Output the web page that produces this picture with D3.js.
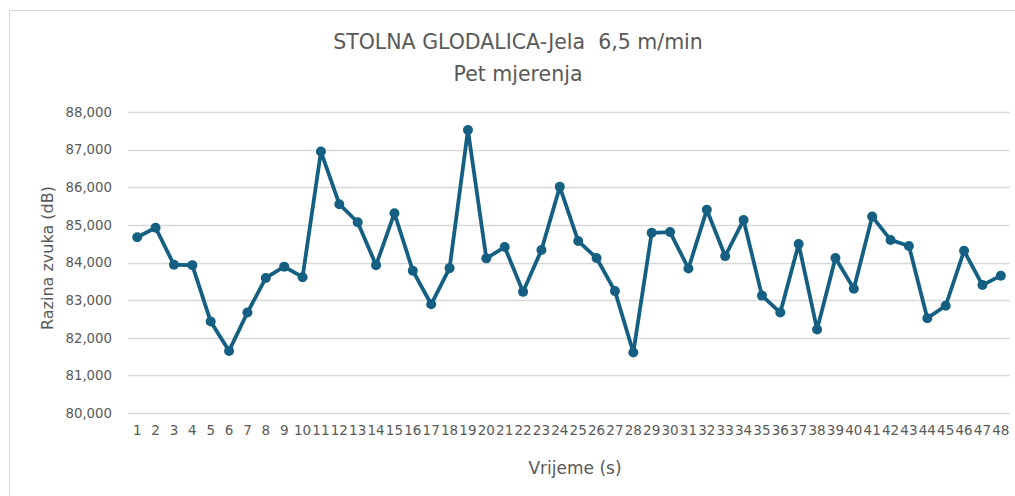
<!DOCTYPE html>
<html>
<head>
<meta charset="utf-8">
<script src="https://cdn.jsdelivr.net/npm/d3@7"></script>
<style>
  html, body { margin: 0; padding: 0; background: #fff; }
  svg { display: block; }
  text { font-family: "DejaVu Sans", sans-serif; fill: #595959; }
</style>
</head>
<body>
<svg id="chart" width="1015" height="496"></svg>
<script>
const titleLines = ["STOLNA GLODALICA-Jela  6,5 m/min", "Pet mjerenja"];
const xAxisTitle = "Vrijeme (s)";
const yAxisTitle = "Razina zvuka (dB)";
const categories = d3.range(1, 49).map(String);
const values = [
  84670, 84925, 83940, 83930, 82430, 81650, 82670, 83590, 83890, 83610,
  86950, 85550, 85070, 83930, 85310, 83780, 82890, 83850, 87520, 84110,
  84410, 83220, 84330, 86010, 84570, 84120, 83240, 81610, 84790, 84810,
  83840, 85400, 84170, 85130, 83120, 82670, 84490, 82220, 84120, 83300,
  85220, 84600, 84440, 82520, 82850, 84310, 83400, 83650
];
const yTicks = [80000, 81000, 82000, 83000, 84000, 85000, 86000, 87000, 88000];

const svg = d3.select("#chart");
const plot = { left: 128, right: 1010, top: 112, bottom: 413 };

// chart area border
svg.append("rect")
  .attr("x", 9.5).attr("y", 10.5)
  .attr("width", 1040).attr("height", 520)
  .attr("fill", "none").attr("stroke", "#d9d9d9").attr("stroke-width", 1);

const x = d3.scaleBand().domain(categories).range([plot.left, plot.right]).paddingInner(0).paddingOuter(0);
const y = d3.scaleLinear().domain([80000, 88000]).range([plot.bottom, plot.top]);

// gridlines
svg.append("g")
  .selectAll("line")
  .data(yTicks)
  .join("line")
  .attr("x1", plot.left).attr("x2", plot.right)
  .attr("y1", d => Math.round(y(d)) + 0.5).attr("y2", d => Math.round(y(d)) + 0.5)
  .attr("stroke", "#d9d9d9").attr("stroke-width", 1.3);

// y axis
const fmt = d3.format(",");
const yAxis = d3.axisLeft(y).tickValues(yTicks).tickFormat(d => fmt(d)).tickSize(0).tickPadding(16);
const yg = svg.append("g").attr("transform", `translate(${plot.left},0)`).call(yAxis);
yg.select(".domain").remove();
yg.selectAll("text").style("font-size", "13.3px").attr("fill", "#595959").attr("font-family", "DejaVu Sans");

// x axis
const xAxis = d3.axisBottom(x).tickSize(0).tickPadding(12);
const xg = svg.append("g").attr("transform", `translate(0,${plot.bottom})`).call(xAxis);
xg.select(".domain").remove();
xg.selectAll("text").style("font-size", "13.5px").attr("fill", "#595959").attr("font-family", "DejaVu Sans");

// line
const cx = d => x(d) + x.bandwidth() / 2;
const line = d3.line().x((d, i) => cx(categories[i])).y(d => y(d));
svg.append("path")
  .datum(values)
  .attr("d", line)
  .attr("fill", "none")
  .attr("stroke", "#156082")
  .attr("stroke-width", 3.8)
  .attr("stroke-linejoin", "round");

svg.append("g")
  .selectAll("circle")
  .data(values)
  .join("circle")
  .attr("cx", (d, i) => cx(categories[i]))
  .attr("cy", d => y(d))
  .attr("r", 5)
  .attr("fill", "#156082");

// title
svg.append("text")
  .attr("x", 518).attr("y", 49)
  .attr("text-anchor", "middle")
  .style("font-size", "20.5px")
  .style("white-space", "pre")
  .text(titleLines[0]);
svg.append("text")
  .attr("x", 518).attr("y", 81)
  .attr("text-anchor", "middle")
  .style("font-size", "20.5px")
  .text(titleLines[1]);

// axis titles
svg.append("text")
  .attr("x", 575).attr("y", 474)
  .attr("text-anchor", "middle")
  .style("font-size", "17px")
  .text(xAxisTitle);
svg.append("text")
  .attr("transform", `translate(53,258) rotate(-90)`)
  .attr("text-anchor", "middle")
  .style("font-size", "16px")
  .text(yAxisTitle);
</script>
</body>
</html>
